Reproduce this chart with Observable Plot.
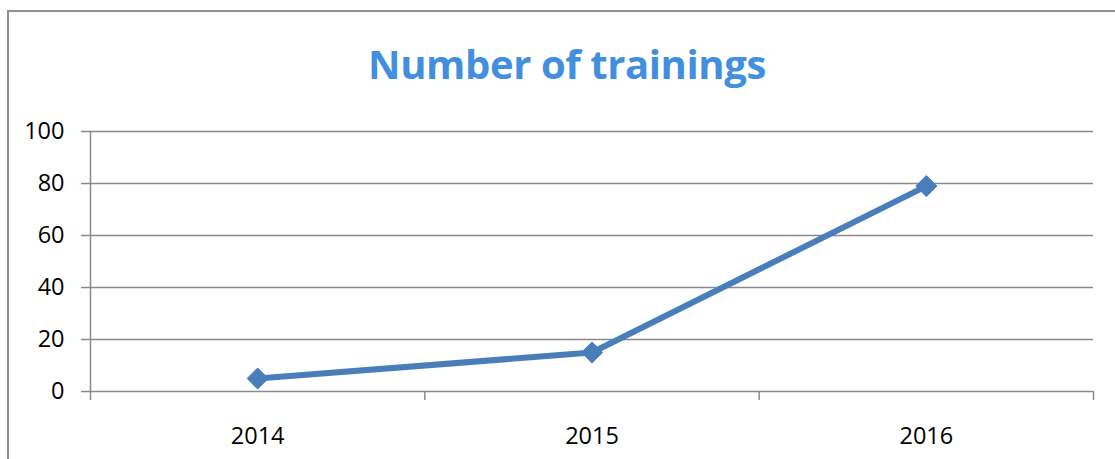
<!DOCTYPE html>
<html>
<head>
<meta charset="utf-8">
<script src="https://cdn.jsdelivr.net/npm/d3@7"></script>
<script src="https://cdn.jsdelivr.net/npm/@observablehq/plot@0.6"></script>
<style>
  html, body { margin: 0; padding: 0; background: #fff; }
  body { width: 1115px; height: 459px; overflow: hidden; position: relative; }
  #frame { position: absolute; left: 7px; top: 10px; width: 1300px; height: 600px; border: 2px solid #8f8f8f; }
  #title { position: absolute; left: 0; top: 40px; width: 1134px; text-align: center;
           font-family: "Open Sans", sans-serif; font-weight: 700; font-size: 40px; line-height: 48px;
           color: #418fde; letter-spacing: -0.4px; }
  #chart { position: absolute; left: 0; top: 110px; }
</style>
</head>
<body>
<div id="frame"></div>
<div id="title"></div>
<div id="chart"></div>
<script>
const titleText = "Number of trainings";
const years = [2014, 2015, 2016];
const trainings = [5, 15, 79];
const yTicks = [0, 20, 40, 60, 80, 100];

const data = years.map((year, i) => ({year, value: trainings[i]}));
const bounds = [...years.map(y => y - 0.5), years[years.length - 1] + 0.5];

document.getElementById("title").textContent = titleText;

const gray = "#8a8a8a";
const blue = "#4a7ebb";

const chart = Plot.plot({
  width: 1115,
  height: 349,
  marginLeft: 90,
  marginRight: 22,
  marginTop: 21,
  marginBottom: 68,
  style: {fontFamily: "'Open Sans', sans-serif", fontSize: "23.5px", color: "#000", background: "transparent"},
  x: {domain: [bounds[0], bounds[bounds.length - 1]], label: null},
  y: {domain: [0, 100], label: null},
  marks: [
    Plot.gridY(yTicks, {stroke: gray, strokeOpacity: 1, strokeWidth: 1.5}),
    Plot.frame({anchor: "left", stroke: gray, strokeWidth: 1.5}),
    Plot.axisY({ticks: yTicks, tickSize: 9, tickPadding: 17, stroke: gray, strokeWidth: 1.5, fill: "#000", label: null}),
    Plot.axisX({ticks: bounds, tickSize: 9, tickFormat: () => "", stroke: gray, strokeWidth: 1.5, label: null}),
    Plot.axisX({ticks: years, tickSize: 0, tickPadding: 36, tickFormat: d => String(d), fill: "#000", label: null}),
    Plot.line(data, {x: "year", y: "value", stroke: blue, strokeWidth: 6, strokeLinejoin: "round"}),
    Plot.dot(data, {x: "year", y: "value", symbol: "diamond2", r: 9.5, fill: blue, stroke: blue, strokeWidth: 1})
  ]
});
document.getElementById("chart").appendChild(chart);
</script>
</body>
</html>
